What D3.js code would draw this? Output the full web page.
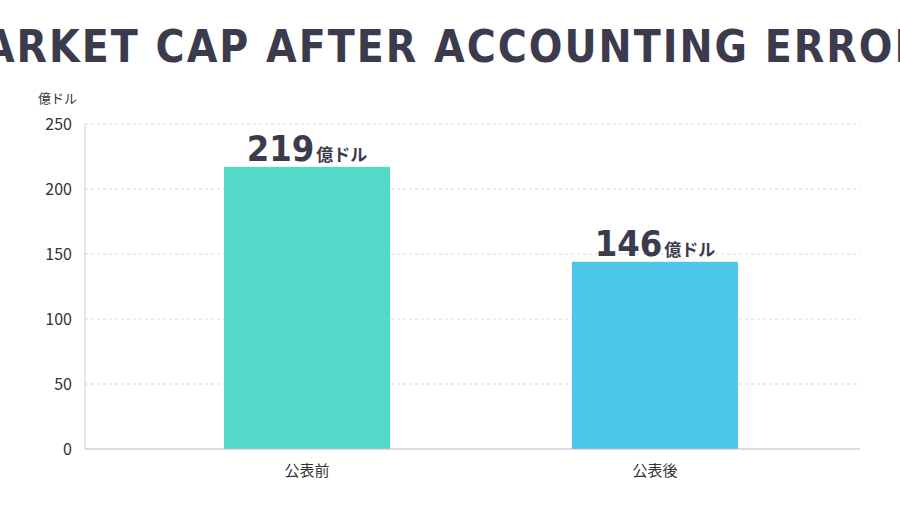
<!DOCTYPE html>
<html><head><meta charset="utf-8">
<script src="https://cdn.jsdelivr.net/npm/d3@7"></script>
<style>body{margin:0;background:#fff}text{font-family:"Noto Sans CJK JP","Noto Sans",sans-serif}</style>
</head><body><svg id="c" width="900" height="506"></svg>
<script>
const categories = ['公表前', '公表後'];
const values = [217, 144];
const labelNums = ['219', '146'];
const colors = ['#52d9c8', '#4dc8e8'];
const yTicks = [0, 50, 100, 150, 200, 250];

const svg = d3.select('#c');
const plotLeft = 85, plotRight = 860, plotTop = 124, plotBottom = 449;

const y = d3.scaleLinear().domain([0, 250]).range([plotBottom, plotTop]);
const x = d3.scaleBand().domain(categories).range([133, 829]).paddingInner(0.523).paddingOuter(0.2615);

svg.append('text').attr('x', 450).attr('y', 62).attr('text-anchor', 'middle')
    .style('font-family', '"DejaVu Sans Condensed","DejaVu Sans",sans-serif')
    .style('font-weight', 'bold').style('font-size', '44px').style('letter-spacing', '2px')
    .attr('fill', '#3b3b4d').text('MARKET CAP AFTER ACCOUNTING ERRORS');

// grid
svg.selectAll('line.grid').data(yTicks.filter(d => d > 0)).enter().append('line')
    .attr('x1', plotLeft).attr('x2', plotRight).attr('y1', d => y(d)).attr('y2', d => y(d))
    .attr('stroke', '#d8d8d8').attr('stroke-dasharray', '3,3');

// y axis
svg.append('line').attr('x1', plotLeft).attr('x2', plotLeft).attr('y1', plotTop).attr('y2', plotBottom).attr('stroke', '#d0d0d8');
svg.selectAll('text.yt').data(yTicks).enter().append('text')
    .attr('x', 72).attr('y', d => y(d) + 6).attr('text-anchor', 'end')
    .style('font-size', '16px').attr('fill', '#333').text(d => d);
svg.append('text').attr('x', 38).attr('y', 103).style('font-size', '13px').attr('fill', '#333').text('億ドル');

// bars
svg.selectAll('rect').data(values).enter().append('rect')
    .attr('x', (d, i) => x(categories[i])).attr('width', x.bandwidth())
    .attr('y', d => y(d)).attr('height', d => plotBottom - y(d))
    .attr('fill', (d, i) => colors[i]);

svg.append('line').attr('x1', plotLeft).attr('x2', plotRight).attr('y1', plotBottom).attr('y2', plotBottom).attr('stroke', '#b8b8d0');

// value labels
values.forEach((v, i) => {
    const t = svg.append('text').attr('x', x(categories[i]) + x.bandwidth() / 2).attr('y', y(v) - 6)
        .attr('text-anchor', 'middle').attr('fill', '#3b3b4d');
    t.append('tspan').style('font-family', '"DejaVu Sans Condensed","DejaVu Sans",sans-serif')
        .style('font-weight', 'bold').style('font-size', '36px').text(labelNums[i]);
    t.append('tspan').style('font-size', '17px').style('font-weight', 'bold').attr('dx', 2).text('億ドル');
});

// x labels
svg.selectAll('text.xl').data(categories).enter().append('text')
    .attr('x', d => x(d) + x.bandwidth() / 2).attr('y', 476).attr('text-anchor', 'middle')
    .style('font-size', '15px').attr('fill', '#333').text(d => d);
</script></body></html>
